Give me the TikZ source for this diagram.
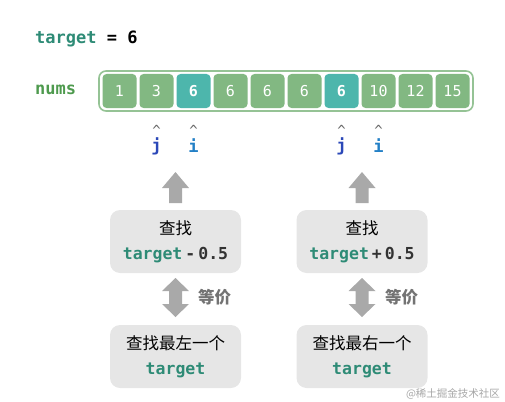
\documentclass[tikz,border=0pt]{standalone}
\usepackage{fontspec}
\setmainfont{Noto Sans CJK SC}
\setmonofont{DejaVu Sans Mono}
\usetikzlibrary{positioning}
\definecolor{numgreen}{HTML}{82B882}
\definecolor{numteal}{HTML}{4DB6AC}
\definecolor{tgtteal}{HTML}{2E8B76}
\definecolor{lblgreen}{HTML}{4E9A4E}
\definecolor{boxgray}{HTML}{E6E6E6}
\definecolor{arrgray}{HTML}{A9A9A9}
\definecolor{jblue}{HTML}{2B48B8}
\definecolor{iblue}{HTML}{2380C6}
\newcommand{\tgt}{{\color{tgtteal}\ttfamily\bfseries target}}
\tikzset{
  cellbox/.style={fill=numgreen, rounded corners=4pt, minimum width=34pt, minimum height=34pt, inner sep=0pt, text=white, font=\fontsize{15}{15}\ttfamily},
  cellhit/.style={cellbox, fill=numteal, font=\fontsize{15}{15}\ttfamily\bfseries},
  arraybox/.style={draw=numgreen!85, fill=white, line width=1.6pt, rounded corners=7pt},
  stepbox/.style={fill=boxgray, rounded corners=10pt, minimum width=131pt, minimum height=63pt, inner sep=0pt, align=center, font=\fontsize{16.5}{25}\selectfont},
  ptrcaret/.style={text=black!60, inner sep=0pt, font=\fontsize{14}{14}\ttfamily},
  ptrj/.style={text=jblue, inner sep=0pt, font=\fontsize{17}{17}\ttfamily\bfseries},
  ptri/.style={text=iblue, inner sep=0pt, font=\fontsize{17}{17}\ttfamily\bfseries},
  toplabel/.style={anchor=west, inner sep=0pt, font=\fontsize{17}{17}\ttfamily\bfseries},
  eqlabel/.style={anchor=west, inner sep=0pt, text=black!55, font=\fontsize{16.5}{16.5}\selectfont\bfseries},
  bigarrow/.style={fill=arrgray},
}

\begin{document}
\begin{tikzpicture}[x=1pt, y=-1pt]
\useasboundingbox (0,0) rectangle (505,401);
% labels
\node[toplabel] (tline) at (35,39) {\tgt{} = 6};
\node[toplabel, text=lblgreen] (nlabel) at (35,90) {nums};
% array
\draw[arraybox] (99,71) rectangle (473,111);
\foreach \v/\s [count=\k from 0] in {1/cellbox,3/cellbox,6/cellhit,6/cellbox,6/cellbox,6/cellbox,6/cellhit,10/cellbox,12/cellbox,15/cellbox}
  \node[\s] (c\k) at ({119.5+37*\k},91) {\v};
% pointers
\node[ptrcaret] (cj1) at (156.5,130) {\textasciicircum};
\node[ptrcaret] (ci1) at (193.5,130) {\textasciicircum};
\node[ptrcaret] (cj2) at (341.5,130) {\textasciicircum};
\node[ptrcaret] (ci2) at (378.5,130) {\textasciicircum};
\node[ptrj] (pj1) at (156.5,146) {j};
\node[ptri] (pi1) at (193.5,146) {i};
\node[ptrj] (pj2) at (341.5,146) {j};
\node[ptri] (pi2) at (378.5,146) {i};
% boxes
\node[stepbox] (qleft) at (175.5,241.5) {查找\\\tgt\hspace{3pt}{\ttfamily\bfseries\color{black!80}-\hspace{3pt}0.5}};
\node[stepbox] (qright) at (362,241.5) {查找\\\tgt\hspace{3pt}{\ttfamily\bfseries\color{black!80}+\hspace{3pt}0.5}};
\node[stepbox] (eleft) at (175.5,356.5) {查找最左一个\\\tgt};
\node[stepbox] (eright) at (362,356.5) {查找最右一个\\\tgt};
% arrows
\foreach \cx in {175.5,362} {
  \fill[bigarrow] (\cx,172) -- (\cx+13.5,188) -- (\cx+6.5,188) -- (\cx+6.5,203)
    -- (\cx-6.5,203) -- (\cx-6.5,188) -- (\cx-13.5,188) -- cycle;
  \fill[bigarrow] (\cx,278) -- (\cx+13.5,291) -- (\cx+6.5,291) -- (\cx+6.5,304)
    -- (\cx+13.5,304) -- (\cx,317) -- (\cx-13.5,304) -- (\cx-6.5,304)
    -- (\cx-6.5,291) -- (\cx-13.5,291) -- cycle;
}
\node[eqlabel] (eqleft) at (198,297) {等价};
\node[eqlabel] (eqright) at (385,297) {等价};
\node[text=black!35, inner sep=0pt, font=\fontsize{10.5}{10.5}\selectfont] (mark) at (453,394) {@稀土掘金技术社区};
\end{tikzpicture}
\end{document}
